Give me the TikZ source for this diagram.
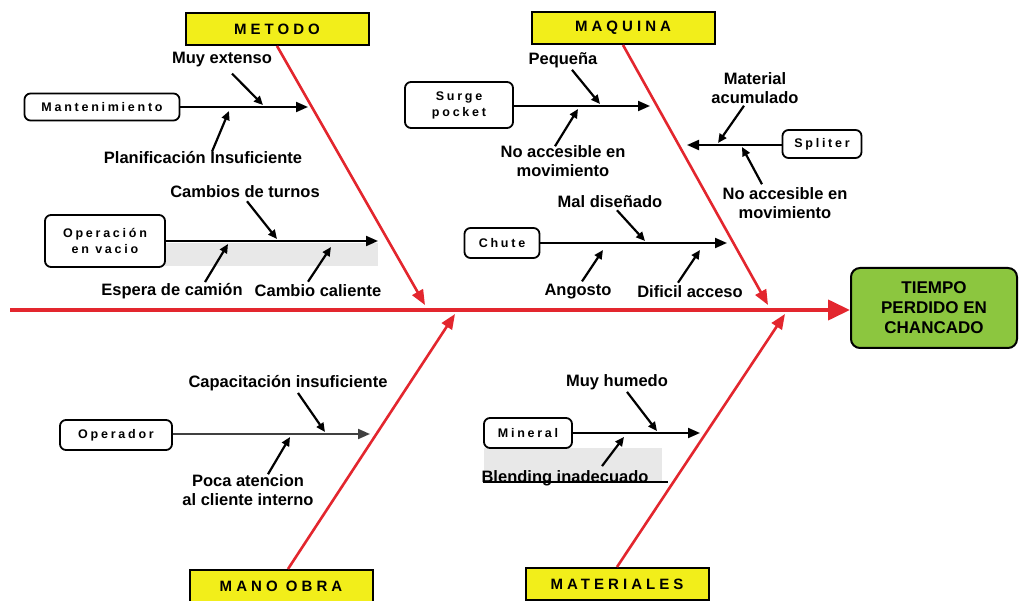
\documentclass[tikz,border=0pt]{standalone}
\usepackage{fontspec}
\setmainfont{Liberation Sans}
\newfontfamily\catfont[LetterSpace=27]{Liberation Sans}
\newfontfamily\boxfont[LetterSpace=22]{Liberation Sans}
\usetikzlibrary{arrows.meta}

\definecolor{bonered}{HTML}{E3262E}
\definecolor{catyellow}{HTML}{F2EE1A}
\definecolor{effgreen}{HTML}{8CC63F}

\begin{document}
\begin{tikzpicture}[x=1pt,y=-1pt,
  catbox/.style={draw=black, line width=2pt, fill=catyellow, minimum width=183pt,
    minimum height=32pt, inner sep=0pt, font=\catfont\bfseries\fontsize{15}{17}\selectfont},
  subbox/.style={draw=black, line width=1.8pt, rounded corners=6pt, fill=white, inner sep=0pt,
    align=center, font=\boxfont\bfseries\fontsize{12.5}{16}\selectfont},
  effbox/.style={draw=black, line width=2pt, rounded corners=9pt, fill=effgreen,
    minimum width=166pt, minimum height=80pt, align=center,
    font=\bfseries\fontsize{17}{20}\selectfont},
  cause/.style={font=\bfseries\fontsize{16.5}{19}\selectfont, align=center, inner sep=1pt},
  spine/.style={draw=bonered, line width=4pt, -{Triangle[length=22pt,width=20pt]}},
  bone/.style={draw=bonered, line width=2.6pt, -{Triangle[length=15pt,width=12pt]}},
  branch/.style={draw=black, line width=2pt, -{Triangle[length=12pt,width=10pt]}},
  causearrow/.style={draw=black, line width=2.2pt, -{Triangle[length=9pt,width=8pt]}},
  shade/.style={fill=black!9, draw=none}
]
\useasboundingbox (0,0) rectangle (1020,601);
\fill[white] (0,0) rectangle (1020,601);

% shaded strips under two of the branches
\path[shade] (165,243) rectangle (378,266);
\path[shade] (484,448) rectangle (662,481);

% effect and main spine
\node[effbox] (effect) at (934,308) {TIEMPO\\PERDIDO EN\\CHANCADO};
\coordinate (tail) at (10,310);
\draw[spine] (tail) -- (effect.west |- tail);

% category boxes
\node[catbox] (metodo) at (277,29) {METODO};
\node[catbox] (maquina) at (623,28) {MAQUINA};
\node[catbox] (manoobra) at (281,586) {MANO OBRA};
\node[catbox] (materiales) at (617,584) {MATERIALES};

% points where the bones meet the spine
\coordinate (jm) at (425,305);
\coordinate (jq) at (768,305);
\coordinate (jo) at (455,314);
\coordinate (jt) at (785,314);

\draw[bone] (metodo.south) -- (jm);
\draw[bone] (maquina.south) -- (jq);
\draw[bone] ([xshift=7pt]manoobra.north) -- (jo);
\draw[bone] (materiales.north) -- (jt);

% ---- METODO ----
\node[subbox, minimum width=155pt, minimum height=27pt] (mant) at (102,107) {Mantenimiento};
\coordinate (mantend) at (308,107);
\draw[branch] (mant.east) -- (mantend);
\node[cause] (muy) at (222,60) {Muy extenso};
\node[cause] (plan) at (203,158) {Planificación Insuficiente};
\coordinate (muyp) at (263,105);
\coordinate (planp) at (229,111);
\draw[causearrow] ([xshift=10pt,yshift=-5pt]muy.south) -- (muyp);
\draw[causearrow] ([xshift=9pt,yshift=-1pt]plan.north) -- (planp);

\node[subbox, minimum width=120pt, minimum height=52pt] (opvac) at (105,241) {Operación\\en vacio};
\coordinate (opvacend) at (378,241);
\draw[branch] (opvac.east) -- (opvacend);
\node[cause] (camb) at (245,192) {Cambios de turnos};
\node[cause] (esp) at (172,291) {Espera de camión};
\node[cause] (cal) at (318,291) {Cambio caliente};
\coordinate (cambp) at (277,239);
\coordinate (espp) at (228,244);
\coordinate (calp) at (331,247);
\draw[causearrow] ([xshift=2pt,yshift=-2pt]camb.south) -- (cambp);
\draw[causearrow] ([xshift=33pt,yshift=0pt]esp.north) -- (espp);
\draw[causearrow] ([xshift=-10pt,yshift=2pt]cal.north) -- (calp);

% ---- MAQUINA ----
\node[subbox, minimum width=108pt, minimum height=46pt] (surge) at (459,105) {Surge\\pocket};
\coordinate (surgeend) at (650,106);
\draw[branch] (surge.east |- surgeend) -- (surgeend);
\node[cause] (peq) at (563,60) {Pequeña};
\node[cause] (noa1) at (563,161) {No accesible en\\movimiento};
\coordinate (peqp) at (600,104);
\coordinate (noa1p) at (578,109);
\draw[causearrow] ([xshift=9pt,yshift=-1pt]peq.south) -- (peqp);
\draw[causearrow] ([xshift=-8pt,yshift=-2pt]noa1.north) -- (noa1p);

\node[subbox, minimum width=79pt, minimum height=28pt] (split) at (822,144) {Spliter};
\coordinate (splitend) at (687,145);
\draw[branch] (split.west |- splitend) -- (splitend);
\node[cause] (matac) at (755,88) {Material\\acumulado};
\node[cause] (noa2) at (785,203) {No accesible en\\movimiento};
\coordinate (matacp) at (718,143);
\coordinate (noa2p) at (742,147);
\draw[causearrow] ([xshift=-11pt,yshift=-1pt]matac.south) -- (matacp);
\draw[causearrow] ([xshift=-23pt,yshift=2pt]noa2.north) -- (noa2p);

\node[subbox, minimum width=75pt, minimum height=30pt] (chute) at (502,243) {Chute};
\coordinate (chuteend) at (727,243);
\draw[branch] (chute.east) -- (chuteend);
\node[cause] (mal) at (610,202) {Mal diseñado};
\node[cause] (ango) at (578,292) {Angosto};
\node[cause] (dif) at (690,292) {Dificil acceso};
\coordinate (malp) at (645,241);
\coordinate (angop) at (603,250);
\coordinate (difp) at (700,250);
\draw[causearrow] ([xshift=7pt,yshift=-1pt]mal.south) -- (malp);
\draw[causearrow] ([xshift=4pt,yshift=2pt]ango.north) -- (angop);
\draw[causearrow] ([xshift=-12pt,yshift=2pt]dif.north) -- (difp);

% ---- MANO OBRA ----
\node[subbox, minimum width=112pt, minimum height=30pt] (oper) at (116,435) {Operador};
\coordinate (operend) at (370,434);
\draw[branch, draw=black!75] (oper.east |- operend) -- (operend);
\node[cause] (capa) at (288,383) {Capacitación insuficiente};
\node[cause] (poca) at (248,490) {Poca atencion\\al cliente interno};
\coordinate (capap) at (325,432);
\coordinate (pocap) at (290,437);
\draw[causearrow] ([xshift=10pt,yshift=-1pt]capa.south) -- (capap);
\draw[causearrow] ([xshift=20pt,yshift=-1pt]poca.north) -- (pocap);

% ---- MATERIALES ----
\node[subbox, minimum width=88pt, minimum height=30pt] (miner) at (528,433) {Mineral};
\coordinate (minerend) at (700,433);
\draw[branch] (miner.east) -- (minerend);
\node[cause] (hum) at (617,382) {Muy humedo};
\node[cause] (blend) at (565,478) {Blending inadecuado};
\coordinate (hump) at (657,431);
\coordinate (blendp) at (624,437);
\draw[causearrow] ([xshift=10pt,yshift=-1pt]hum.south) -- (hump);
\draw[causearrow] ([xshift=37pt,yshift=3pt]blend.north) -- (blendp);
\draw[line width=1.2pt] ([xshift=-82pt,yshift=5pt]blend.south) -- ([xshift=103pt,yshift=5pt]blend.south);

\end{tikzpicture}
\end{document}
